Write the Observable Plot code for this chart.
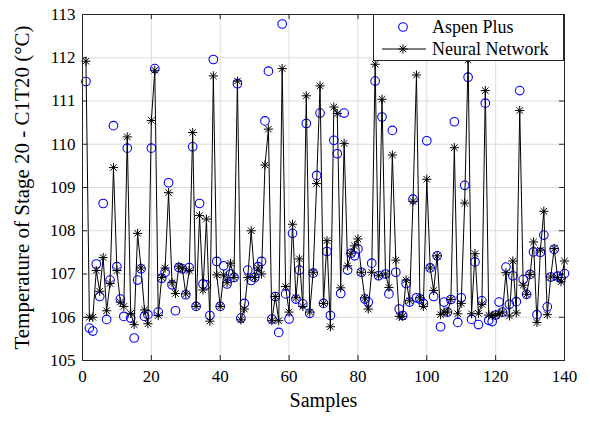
<!DOCTYPE html>
<html>
<head>
<meta charset="utf-8">
<script src="https://cdn.jsdelivr.net/npm/d3@7"></script>
<script src="https://cdn.jsdelivr.net/npm/@observablehq/plot@0.6"></script>
<style>
  html, body { margin: 0; padding: 0; background: #fff; }
  #wrap { position: relative; width: 590px; height: 421px; font-family: "Liberation Serif", "Times New Roman", serif; }
  #legend { position: absolute; left: 373px; top: 14px; width: 191px; height: 47px; background: #fff; border: 1px solid #262626; box-sizing: border-box; font-size: 18px; color: #000; }
  #legend .row { position: absolute; left: 0; height: 22px; display: flex; align-items: center; }
  #legend svg { width: 48px; height: 22px; margin-left: 6px; }
  #legend span { margin-left: 4px; white-space: nowrap; }
</style>
</head>
<body>
<div id="wrap"></div>
<script>
// Sample index 1..140
const samples = d3.range(1, 141);

// Aspen Plus (circles)
const aspen = [
  111.45, 105.75, 105.68, 107.23, 106.48, 108.63, 105.95, 106.86, 110.43, 107.17,
  106.42, 106.02, 109.91, 105.98, 105.52, 106.86, 107.12, 106.02, 106.06, 109.91,
  111.75, 106.12, 106.90, 107.04, 109.11, 106.75, 106.15, 107.15, 107.12, 106.52,
  107.15, 109.94, 106.25, 108.63, 106.77, 106.75, 106.04, 111.96, 107.29, 106.25,
  107.19, 106.77, 107.00, 106.92, 111.40, 105.98, 106.32, 107.09, 106.85, 106.92,
  107.17, 107.29, 110.54, 111.69, 105.96, 106.48, 105.65, 112.78, 106.54, 105.96,
  107.94, 106.42, 107.09, 106.31, 110.48, 106.09, 107.02, 109.28, 110.72, 106.32,
  107.52, 106.04, 110.09, 109.78, 106.55, 110.72, 107.09, 107.48, 107.42, 107.58,
  107.04, 106.42, 106.35, 107.25, 111.46, 106.96, 110.63, 107.00, 106.54, 110.32,
  107.04, 106.19, 106.04, 106.78, 106.35, 108.73, 106.45, 106.42, 106.32, 110.08,
  107.14, 106.48, 107.42, 105.78, 106.35, 106.12, 106.41, 110.52, 105.88, 106.45,
  109.05, 111.55, 105.95, 107.28, 105.83, 106.38, 110.95, 105.93, 105.90, 106.05,
  106.35, 106.12, 107.16, 106.30, 106.96, 106.36, 111.24, 106.87, 106.53, 106.99,
  107.51, 106.06, 107.50, 107.90, 106.24, 106.93, 107.57, 106.95, 106.90, 107.01
];

// Neural Network (line + asterisks)
const neural = [
  111.92, 106.00, 106.00, 107.08, 106.60, 107.38, 106.15, 106.78, 109.46, 107.08,
  106.35, 106.25, 110.17, 106.09, 105.83, 107.94, 107.14, 106.17, 105.85, 110.55,
  111.71, 106.04, 106.92, 107.14, 108.88, 106.80, 106.55, 107.18, 107.12, 106.54,
  107.08, 110.27, 106.25, 108.35, 106.63, 108.27, 105.91, 111.58, 106.98, 106.25,
  106.98, 106.80, 107.25, 106.92, 111.46, 105.94, 106.19, 106.92, 108.00, 106.92,
  107.14, 107.00, 109.52, 110.35, 105.92, 106.48, 105.92, 111.75, 106.71, 106.12,
  108.15, 106.45, 107.35, 106.25, 111.12, 106.12, 107.04, 109.09, 111.35, 106.32,
  107.77, 105.78, 110.86, 110.71, 106.68, 110.02, 107.19, 107.48, 107.65, 107.81,
  107.04, 106.45, 106.19, 107.04, 111.85, 106.96, 111.04, 107.00, 106.69, 109.75,
  107.32, 106.02, 106.02, 106.86, 106.38, 108.68, 111.60, 106.45, 106.25, 109.19,
  107.14, 106.62, 107.42, 106.06, 106.12, 106.12, 106.41, 109.92, 106.08, 106.32,
  108.64, 111.95, 106.08, 107.47, 106.09, 106.30, 111.24, 106.05, 106.04, 106.05,
  106.08, 106.12, 107.03, 106.03, 107.30, 106.10, 110.78, 106.74, 106.53, 106.99,
  107.74, 105.88, 107.55, 108.45, 106.06, 106.93, 107.59, 106.92, 106.82, 107.30
];

const xTicks = [0, 20, 40, 60, 80, 100, 120, 140];
const yTicks = [105, 106, 107, 108, 109, 110, 111, 112, 113];
const xLabel = "Samples";
const yLabel = "Temperature of Stage 20 - C1T20 (°C)";
const seriesNames = ["Aspen Plus", "Neural Network"];

const rows = samples.map((s, i) => ({s, aspen: aspen[i], nn: neural[i]}));

// MATLAB-like 8-ray asterisk
const star8 = {
  draw(ctx, size) {
    const r = Math.sqrt(size / Math.PI);
    const d = r * Math.SQRT1_2;
    ctx.moveTo(-r, 0); ctx.lineTo(r, 0);
    ctx.moveTo(0, -r); ctx.lineTo(0, r);
    ctx.moveTo(-d, -d); ctx.lineTo(d, d);
    ctx.moveTo(-d, d); ctx.lineTo(d, -d);
  }
};

const mT = 14, mB = 61, mL = 82, mR = 26, W = 590, H = 421;
const fh = H - mT - mB, fw = W - mL - mR;

const chart = Plot.plot({
  width: W, height: H,
  marginTop: mT, marginBottom: mB, marginLeft: mL, marginRight: mR,
  style: {fontFamily: "Liberation Serif, Times New Roman, serif", fontSize: "17px", color: "#000", background: "#fff", overflow: "visible"},
  x: {domain: [0, 140], ticks: xTicks, tickSize: 0, tickPadding: 9, label: null},
  y: {domain: [105, 113], ticks: yTicks, tickSize: 0, tickPadding: 7, label: null},
  marks: [
    Plot.ruleX(xTicks, {stroke: "#dcdcdc", strokeWidth: 1}),
    Plot.ruleY(yTicks, {stroke: "#dcdcdc", strokeWidth: 1}),
    // inward ticks
    Plot.ruleX(xTicks, {stroke: "#262626", insetTop: fh - 5}),
    Plot.ruleX(xTicks, {stroke: "#262626", insetBottom: fh - 5}),
    Plot.ruleY(yTicks, {stroke: "#262626", insetRight: fw - 5}),
    Plot.ruleY(yTicks, {stroke: "#262626", insetLeft: fw - 5}),
    Plot.dot(rows, {x: "s", y: "aspen", r: 4.3, stroke: "#0000ff", strokeWidth: 1.1, fill: "none"}),
    Plot.line(rows, {x: "s", y: "nn", stroke: "#000", strokeWidth: 1}),
    Plot.dot(rows, {x: "s", y: "nn", symbol: star8, r: 4.6, stroke: "#000", strokeWidth: 1}),
    Plot.frame({stroke: "#262626", strokeWidth: 1}),
    Plot.text([xLabel], {frameAnchor: "bottom", dy: 46, fontSize: 20, fill: "#000"}),
    Plot.text([yLabel], {frameAnchor: "left", textAnchor: "middle", rotate: -90, dx: -60, fontSize: 21, fill: "#000"})
  ]
});

const wrap = document.getElementById("wrap");
wrap.appendChild(chart);

// Legend
const legend = document.createElement("div");
legend.id = "legend";
legend.innerHTML = `
  <div class="row" style="top:1px"><svg viewBox="0 0 48 22"><circle cx="23" cy="11" r="4.3" fill="none" stroke="#0000ff" stroke-width="1.1"/></svg><span>${seriesNames[0]}</span></div>
  <div class="row" style="top:23px"><svg viewBox="0 0 48 22"><line x1="2" y1="11" x2="46" y2="11" stroke="#000"/><path d="M18.4,11H27.6M23,6.4V15.6M19.7,7.7L26.3,14.3M19.7,14.3L26.3,7.7" stroke="#000" fill="none"/></svg><span>${seriesNames[1]}</span></div>`;
wrap.appendChild(legend);
</script>
</body>
</html>
